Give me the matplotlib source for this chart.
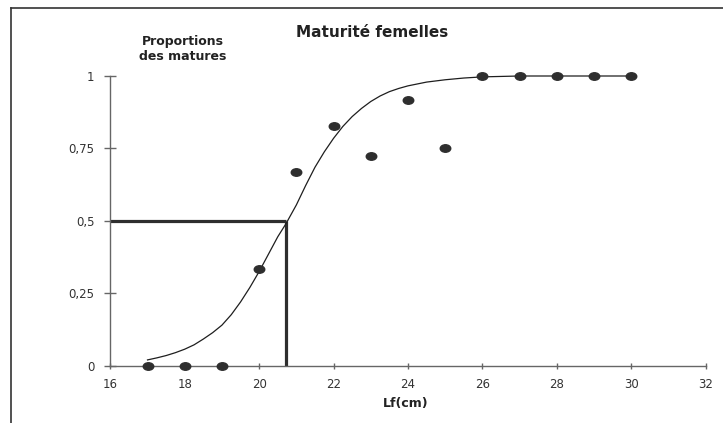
#!/usr/bin/env python3

import matplotlib
matplotlib.use("Agg")
import matplotlib.pyplot as plt
from matplotlib.lines import Line2D
from matplotlib.markers import MarkerStyle
from matplotlib.transforms import Affine2D

# observed proportions of mature females by length class
lf_obs = [17, 18, 19, 20, 21, 22, 23, 24, 25, 26, 27, 28, 29, 30]
prop_obs = [0, 0, 0, 0.333, 0.67, 0.827, 0.725, 0.917, 0.75, 1, 1, 1, 1, 1]

# fitted maturity curve
lf_fit = [17.0, 17.25, 17.5, 17.75, 18.0, 18.25, 18.5, 18.75, 19.0, 19.25,
          19.5, 19.75, 20.0, 20.25, 20.5, 20.72, 21.0, 21.25, 21.5, 21.75,
          22.0, 22.25, 22.5, 22.75, 23.0, 23.25, 23.5, 23.75, 24.0, 24.5,
          25.0, 25.5, 26.0, 27.0, 28.0, 29.0, 30.0]
prop_fit = [0.020, 0.027, 0.035, 0.045, 0.057, 0.072, 0.092, 0.114, 0.140,
            0.176, 0.220, 0.270, 0.325, 0.385, 0.445, 0.490, 0.555, 0.622,
            0.685, 0.738, 0.785, 0.826, 0.860, 0.888, 0.912, 0.931, 0.946,
            0.957, 0.966, 0.979, 0.987, 0.993, 0.997, 1.0, 1.0, 1.0, 1.0]

# taille de première maturité (L50)
l50 = 20.72
p50 = 0.5

x_ticks = [16, 18, 20, 22, 24, 26, 28, 30, 32]
y_ticks = [0, 0.25, 0.5, 0.75, 1]
y_tick_labels = ["0", "0,25", "0,5", "0,75", "1"]

title = "Maturité femelles"
ylabel_lines = ["Proportions", "des matures"]
xlabel = "Lf(cm)"

W, H = 723, 423
fig = plt.figure(figsize=(W / 100, H / 100), dpi=100)
ax = fig.add_axes([110.3 / W, 1 - 365.7 / H, 595.4 / W, 289.7 / H])

axis_col = "#666666"
dark = "#2e2e2e"

# --- L50 repère ---
ax.plot([x_ticks[0], l50], [p50, p50], color=dark, lw=2.3, clip_on=False,
        solid_capstyle="butt", zorder=2)
ax.plot([l50, l50], [0, p50], color=dark, lw=2.3, clip_on=False,
        solid_capstyle="butt", zorder=2)

# --- courbe ajustée ---
ax.plot(lf_fit, prop_fit, color="#1e1e1e", lw=0.9, clip_on=False, zorder=3,
        solid_joinstyle="round")

# --- points observés (un peu ovales comme l'original) ---
oval = MarkerStyle("o", transform=Affine2D().scale(1.4, 1.0))
ax.plot(lf_obs, prop_obs, linestyle="none", marker=oval, ms=5.4,
        color=dark, clip_on=False, zorder=4)

# --- axes ---
ax.set_xlim(16, 32)
ax.set_ylim(0, 1)
ax.set_xticks(x_ticks)
ax.set_yticks(y_ticks)
ax.set_yticklabels(y_tick_labels)
for side in ["top", "right"]:
    ax.spines[side].set_visible(False)
for side in ["left", "bottom"]:
    ax.spines[side].set_color(axis_col)
    ax.spines[side].set_linewidth(1.0)
ax.tick_params(axis="y", direction="inout", length=8.6, width=1.0,
               color=axis_col, pad=7, labelsize=8.5, labelcolor="#333333")
ax.tick_params(axis="x", direction="inout", length=5, width=1.0,
               color=axis_col, pad=6.5, labelsize=8.5, labelcolor="#333333")

ax.set_xlabel(xlabel, fontsize=9, fontweight="bold", color="#222222")
ax.xaxis.set_label_coords(0.4966, -0.1415)
ax.xaxis.label.set_va("baseline")

# titre et libellé de l'axe y
fig.text(372.5 / W, 1 - 36.7 / H, title, ha="center", va="baseline",
         fontsize=11, fontweight="bold", color="#222222")
for i, line in enumerate(ylabel_lines):
    fig.text(182.5 / W, 1 - (45 + 15 * i) / H, line, ha="center",
             va="baseline", fontsize=9, fontweight="bold", color="#222222")

# cadre (haut et gauche seulement)
fig.add_artist(Line2D([10.5 / W, 1], [1 - 8.5 / H, 1 - 8.5 / H],
                      transform=fig.transFigure, color="#333333", lw=1.2))
fig.add_artist(Line2D([10.5 / W, 10.5 / W], [0, 1 - 8.5 / H],
                      transform=fig.transFigure, color="#333333", lw=1.2))

fig.savefig("out.png", dpi=100)
plt.close(fig)
